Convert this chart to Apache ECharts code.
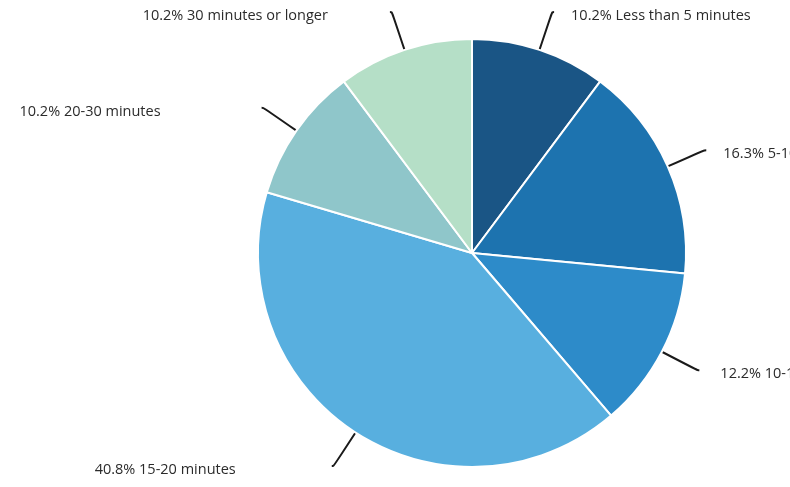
<!DOCTYPE html>
<html>
<head>
<meta charset="utf-8">
<script src="https://cdn.jsdelivr.net/npm/echarts@6/dist/echarts.min.js"></script>
<style>html,body{margin:0;padding:0;background:#fff}#c{width:790px;height:487px}</style>
</head>
<body>
<div id="c"></div>
<script>
const categories = ["Less than 5 minutes", "5-10 minutes", "10-15 minutes", "15-20 minutes", "20-30 minutes", "30 minutes or longer"];
const percentages = [10.2, 16.3, 12.2, 40.8, 10.2, 10.2];
const colors = ["#1a5585", "#1d73af", "#2d8bc9", "#58afdf", "#8fc6ca", "#b5dfc7"];
const labelGaps = [17, 17, 21, 96, 101, 62];

const chart = echarts.init(document.getElementById('c'));
chart.setOption({
  animation: false,
  series: [{
    type: 'pie',
    center: [472, 253],
    radius: 214,
    startAngle: 90,
    clockwise: true,
    avoidLabelOverlap: false,
    itemStyle: { borderColor: '#fff', borderWidth: 2 },
    label: {
      color: '#2b2b2b',
      fontFamily: 'Open Sans',
      fontSize: 14.5,
      width: 400,
      overflow: 'none',
      offset: [0, 4],
      formatter: p => p.value + '% ' + p.name
    },
    labelLine: { length: 40, length2: 2, smooth: 0.5, lineStyle: { color: '#1a1a1a', width: 2 } },
    data: categories.map((n, i) => ({
      name: n,
      value: percentages[i],
      itemStyle: { color: colors[i] },
      label: { distanceToLabelLine: labelGaps[i] }
    }))
  }]
});
</script>
</body>
</html>
